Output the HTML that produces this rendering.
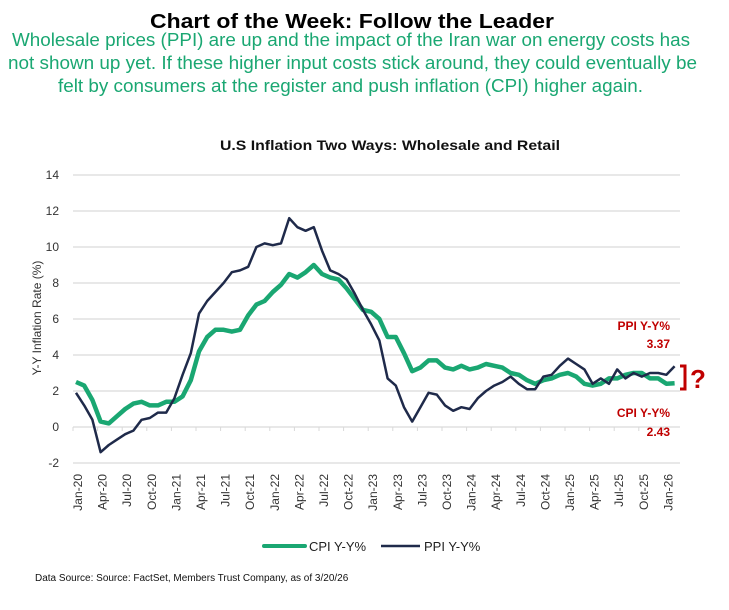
<!DOCTYPE html>
<html><head><meta charset="utf-8"><style>
body{margin:0;background:#fff;}
svg text{font-family:"Liberation Sans",Arial,sans-serif;}
</style></head><body>
<svg id="c" width="729" height="605" viewBox="0 0 729 605" xmlns="http://www.w3.org/2000/svg">
<text x="352" y="28" text-anchor="middle" font-size="20" font-weight="bold" textLength="404" lengthAdjust="spacingAndGlyphs" fill="#000">Chart of the Week: Follow the Leader</text>
<g fill="#1aa772" font-size="18">
<text x="12" y="46" textLength="678" lengthAdjust="spacingAndGlyphs">Wholesale prices (PPI) are up and the impact of the Iran war on energy costs has</text>
<text x="8" y="69" textLength="689" lengthAdjust="spacingAndGlyphs">not shown up yet. If these higher input costs stick around, they could eventually be</text>
<text x="58" y="92" textLength="585" lengthAdjust="spacingAndGlyphs">felt by consumers at the register and push inflation (CPI) higher again.</text>
</g>
<text x="220" y="150" font-size="14" font-weight="bold" textLength="340" lengthAdjust="spacingAndGlyphs" fill="#111">U.S Inflation Two Ways: Wholesale and Retail</text>
<text transform="translate(41,318) rotate(-90)" text-anchor="middle" font-size="12" fill="#333">Y-Y Inflation Rate (%)</text>
<g id="grid"></g><g id="yt"></g><g id="xt"></g><g id="lines"></g>
<g>
<line x1="264" y1="546" x2="305" y2="546" stroke="#1aa772" stroke-width="4" stroke-linecap="round"/>
<text x="309" y="551" font-size="13" fill="#222">CPI Y-Y%</text>
<line x1="381" y1="546" x2="420" y2="546" stroke="#1f2a4a" stroke-width="2.5"/>
<text x="424" y="551" font-size="13" fill="#222">PPI Y-Y%</text>
</g>
<g fill="#c00000" font-size="12" font-weight="bold" text-anchor="end">
<text x="670" y="330">PPI Y-Y%</text>
<text x="670" y="348">3.37</text>
<text x="670" y="417">CPI Y-Y%</text>
<text x="670" y="436">2.43</text>
</g>
<path d="M680 366 H685 V389 H680" fill="none" stroke="#c00000" stroke-width="3"/>
<text x="690" y="388" font-size="26" font-weight="bold" fill="#c00000">?</text>
<text x="35" y="581" font-size="10" fill="#111">Data Source: Source: FactSet, Members Trust Company, as of 3/20/26</text>
</svg>
<script>
const months=["Jan","Feb","Mar","Apr","May","Jun","Jul","Aug","Sep","Oct","Nov","Dec"];
const yTicks=[-2,0,2,4,6,8,10,12,14];
const cpi=[2.5,2.3,1.5,0.3,0.2,0.6,1.0,1.3,1.4,1.2,1.2,1.4,
1.4,1.7,2.6,4.2,5.0,5.4,5.4,5.3,5.4,6.2,6.8,7.0,
7.5,7.9,8.5,8.3,8.6,9.0,8.5,8.3,8.2,7.7,7.1,6.5,
6.4,6.0,5.0,5.0,4.1,3.1,3.3,3.7,3.7,3.3,3.2,3.4,
3.2,3.3,3.5,3.4,3.3,3.0,2.9,2.6,2.4,2.6,2.7,2.9,
3.0,2.8,2.4,2.3,2.4,2.7,2.7,2.9,3.0,3.0,2.7,2.7,
2.4,2.43];
const ppi=[1.9,1.2,0.4,-1.4,-1.0,-0.7,-0.4,-0.2,0.4,0.5,0.8,0.8,
1.6,2.9,4.1,6.3,7.0,7.5,8.0,8.6,8.7,8.9,10.0,10.2,
10.1,10.2,11.6,11.1,10.9,11.1,9.8,8.7,8.5,8.2,7.4,6.5,
5.7,4.8,2.7,2.3,1.1,0.3,1.1,1.9,1.8,1.2,0.9,1.1,
1.0,1.6,2.0,2.3,2.5,2.8,2.4,2.1,2.1,2.8,2.9,3.4,
3.8,3.5,3.2,2.4,2.7,2.4,3.2,2.7,3.0,2.8,3.0,3.0,
2.9,3.37];
const startYear=20;
const NS="http://www.w3.org/2000/svg";
const xS=i=>76+i*8.2;
const yS=v=>427-v*18;
const X0=73,X1=680;
function mk(t,a,p){const e=document.createElementNS(NS,t);for(const k in a)e.setAttribute(k,a[k]);p.appendChild(e);return e;}
const grid=document.getElementById('grid'),yt=document.getElementById('yt'),xt=document.getElementById('xt'),lines=document.getElementById('lines');
yTicks.forEach(v=>{
 const l=mk('line',{x1:X0,x2:X1,y1:yS(v),y2:yS(v),stroke:'#d9d9d9','stroke-width':1.2},grid);
 
 
 const t=mk('text',{x:59,y:yS(v)+4,'text-anchor':'end','font-size':12,fill:'#333'},yt);
 t.textContent=v;
 
 
});
for(let i=0;i<cpi.length;i+=3){
 const tx=xS(i)-3;
 const tk=mk('line',{x1:tx,x2:tx,y1:yS(0),y2:yS(0)+4,stroke:'#d9d9d9'},grid);
 
 
 const lbl=months[i%12]+'-'+(startYear+Math.floor(i/12));
 const t=mk('text',{transform:`translate(${xS(i)+2+4},474) rotate(-90)`,'text-anchor':'end','font-size':12,fill:'#333'},xt);
 t.textContent=lbl;
 
 
}
const path=a=>a.map((v,i)=>(i?'L':'M')+xS(i).toFixed(1)+' '+yS(v).toFixed(1)).join(' ');
const g=mk('path',{d:path(cpi),fill:'none',stroke:'#1aa772','stroke-width':4.5,'stroke-linejoin':'round'},lines);


const p=mk('path',{d:path(ppi),fill:'none',stroke:'#1f2a4a','stroke-width':2.5,'stroke-linejoin':'round'},lines);


</script>
</body></html>
